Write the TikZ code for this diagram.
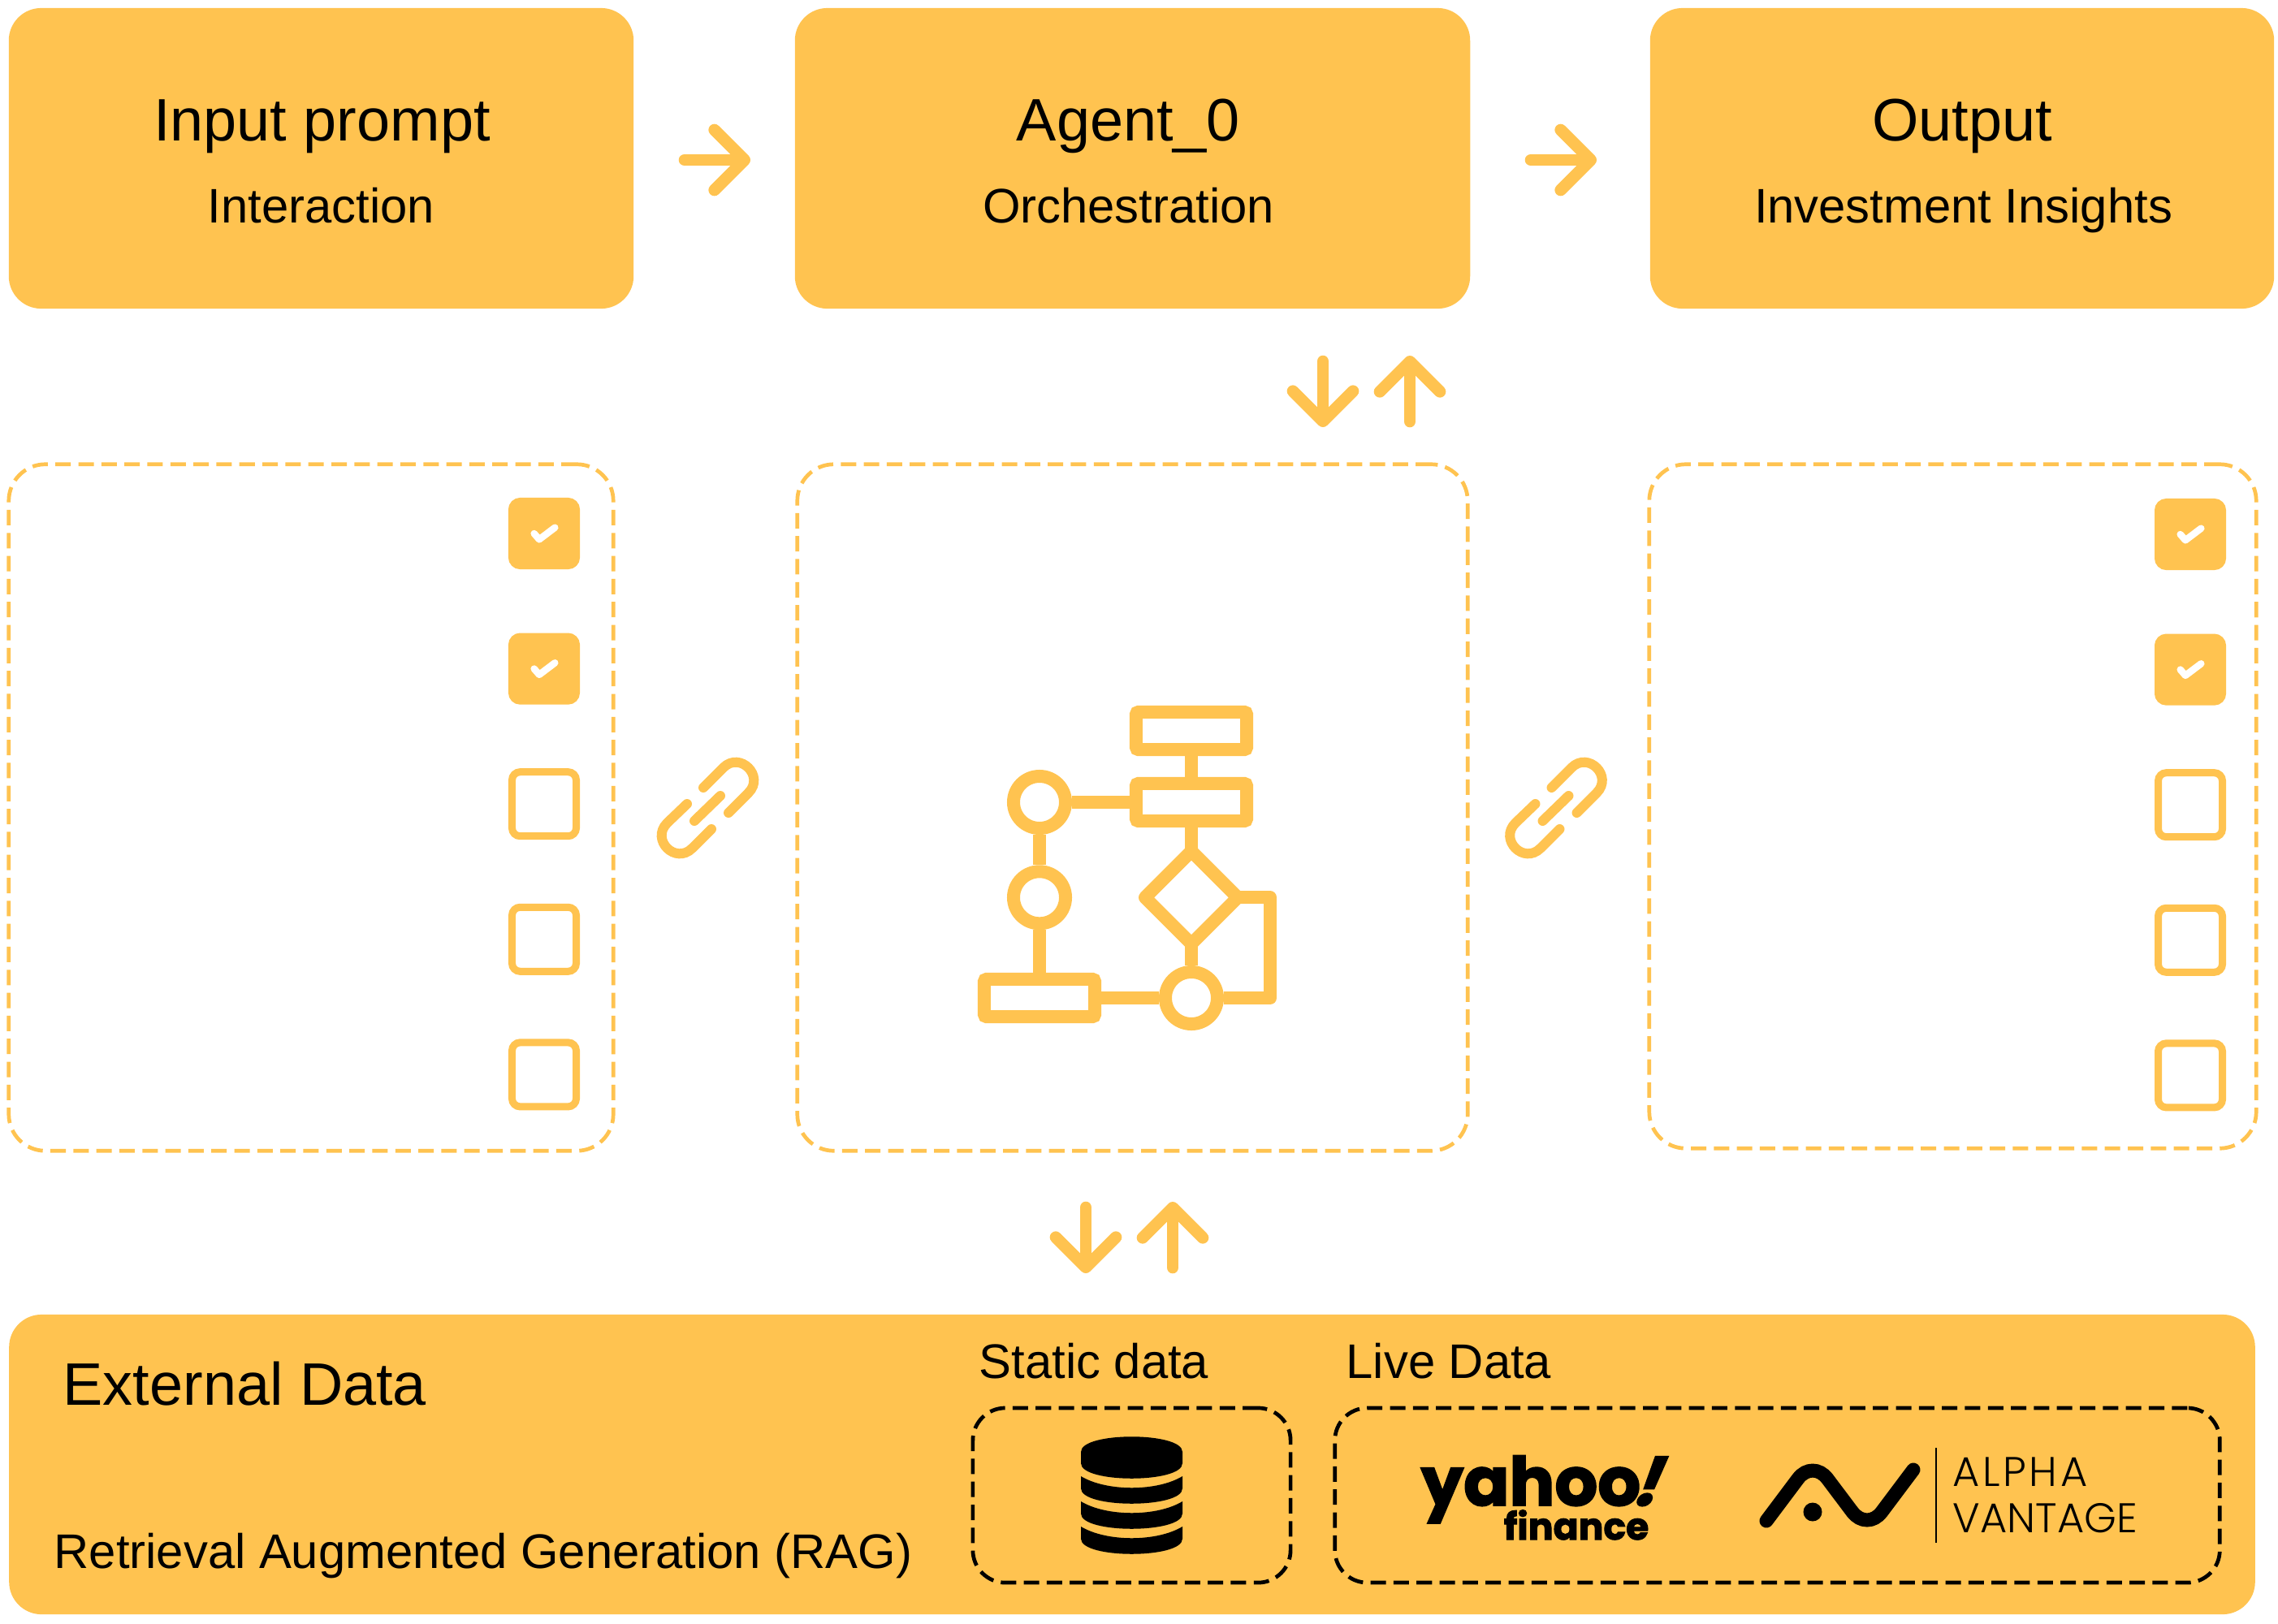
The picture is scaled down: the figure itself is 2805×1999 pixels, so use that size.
\documentclass[tikz,border=0pt]{standalone}
\usepackage{fontspec}
\setmainfont{Liberation Sans}
\newfontfamily\yahoofont[FakeBold=2.2]{Poppins Bold}
\newfontfamily\yahooslant[FakeBold=2.2, FakeSlant=0.4]{Poppins Bold}
\newfontfamily\alphafont{Poppins Light}
\usepackage{xcolor}
\usetikzlibrary{positioning, arrows.meta, shapes.geometric}
\definecolor{amber}{HTML}{FFC350}

\tikzset{
    panel/.style={rectangle, fill=amber, rounded corners=0.4cm, inner sep=0pt, outer sep=0pt},
    titletext/.style={anchor=base, inner sep=0pt, font=\fontsize{21}{24}\selectfont},
    subtext/.style={anchor=base, inner sep=0pt, font=\fontsize{17}{20}\selectfont},
    dashbox/.style={rectangle, draw=amber, line width=0.047cm, dash pattern=on 0.19cm off 0.093cm, rounded corners=0.45cm, inner sep=0pt},
    darkbox/.style={rectangle, draw=black, line width=0.047cm, dash pattern=on 0.19cm off 0.093cm, rounded corners=0.4cm, inner sep=0pt},
    checkoff/.style={rectangle, draw=amber, line width=0.09cm, minimum size=0.79cm, rounded corners=0.1cm, inner sep=0pt},
    checkon/.style={checkoff, fill=amber},
    flowbox/.style={rectangle, draw=amber, line width=0.16cm, minimum width=1.36cm, minimum height=0.463cm, rounded corners=0.03cm, inner sep=0pt},
    flowdot/.style={circle, draw=amber, line width=0.16cm, minimum size=0.64cm, inner sep=0pt},
    flowdiamond/.style={diamond, draw=amber, line width=0.16cm, minimum width=1.14cm, minimum height=1.14cm, line join=round, inner sep=0pt, outer sep=0pt},
    flowline/.style={draw=amber, line width=0.16cm},
    iconarrow/.style={draw=amber, line width=0.146cm, line cap=round, -{Straight Barb[round, length=0.37cm, width=0.74cm]}},
    tick/.pic={
        \draw[white, line width=0.085cm, line cap=round, line join=round] (-12.3,0) -- (-6,7.3) -- (13.3,-7.3);
    },
    chainicon/.pic={
        \draw[amber, line width=0.12cm, line cap=round] (-5.5,-25) -- (19,-49.5) .. controls (39.7,-70.2) and (70.7,-39.2) .. (50,-18.5) -- (25.5,6);
        \draw[amber, line width=0.12cm, line cap=round] (15.5,-15) -- (-16.5,16);
        \draw[amber, line width=0.12cm, line cap=round] (-25.5,-5) -- (-50,18.5) .. controls (-70.7,39.2) and (-39.7,70.2) .. (-19,49.5) -- (4.5,26);
    },
    dbband/.pic={
        \fill[black] (-62.5,0) .. controls (-31,19) and (31,19) .. (62.5,0) -- (62.5,15) .. controls (62.5,40) and (-62.5,40) .. (-62.5,15) -- cycle;
    }
}

\begin{document}
\begin{tikzpicture}[x=0.01cm, y=-0.01cm]
\useasboundingbox (0,0) rectangle (2805,1999);

% Top row
\node[panel, minimum width=7.69cm, minimum height=3.7cm] (input) at (395.5,195) {};
\node[titletext, xshift=0.01cm, yshift=-1.64cm] (inputT) at (input.north) {Input prompt};
\node[subtext, yshift=-2.64cm] (inputS) at (input.north) {Interaction};

\node[panel, minimum width=8.31cm, minimum height=3.7cm] (agent) at (1394.5,195) {};
\node[titletext, xshift=-0.05cm, yshift=-1.64cm] (agentT) at (agent.north) {Agent\_0};
\node[subtext, xshift=-0.05cm, yshift=-2.64cm] (agentS) at (agent.north) {Orchestration};

\node[panel, minimum width=7.68cm, minimum height=3.7cm] (output) at (2416,195) {};
\node[titletext, yshift=-1.64cm] (outputT) at (output.north) {Output};
\node[subtext, xshift=0.015cm, yshift=-2.64cm] (outputS) at (output.north) {Investment Insights};

% Arrows of the top row
\coordinate (inA) at (843,197);
\coordinate (inB) at (924,197);
\coordinate (outA) at (1885,197);
\coordinate (outB) at (1966,197);
\draw[iconarrow] (inA) -- (inB);
\draw[iconarrow] (outA) -- (outB);

% Dashed panels
\node[dashbox, minimum width=7.44cm, minimum height=8.45cm] (left) at (383,994.5) {};
\node[dashbox, minimum width=8.25cm, minimum height=8.45cm] (mid) at (1394.5,994.5) {};
\node[dashbox, minimum width=7.47cm, minimum height=8.42cm] (right) at (2404.5,993) {};

% Arrows between agent and flow panel
\coordinate (agDownA) at (1629,445);
\coordinate (agDownB) at (1629,526);
\coordinate (agUpA) at (1736,519);
\coordinate (agUpB) at (1736,438);
\draw[iconarrow] (agDownA) -- (agDownB);
\draw[iconarrow] (agUpA) -- (agUpB);

% Arrows between flow panel and data
\coordinate (dataDownA) at (1337,1487);
\coordinate (dataDownB) at (1337,1568);
\coordinate (dataUpA) at (1444,1561);
\coordinate (dataUpB) at (1444,1480);
\draw[iconarrow] (dataDownA) -- (dataDownB);
\draw[iconarrow] (dataUpA) -- (dataUpB);

% Left checklist
\node[checkon] (la) at (670,657) {};
\node[checkon, below=0.785cm of la] (lb) {};
\node[checkoff, below=0.785cm of lb] (lc) {};
\node[checkoff, below=0.785cm of lc] (ld) {};
\node[checkoff, below=0.785cm of ld] (le) {};
\pic at (la) {tick};
\pic at (lb) {tick};

% Right checklist
\node[checkon] (ra) at (2697,658) {};
\node[checkon, below=0.785cm of ra] (rb) {};
\node[checkoff, below=0.785cm of rb] (rc) {};
\node[checkoff, below=0.785cm of rc] (rd) {};
\node[checkoff, below=0.785cm of rd] (re) {};
\pic at (ra) {tick};
\pic at (rb) {tick};

% Links
\pic at (871.5,995) {chainicon};
\pic at (1916,995) {chainicon};

% Flow chart icon
\node[flowbox] (fa) at (1467,900) {};
\node[flowbox] (fb) at (1467,988) {};
\node[flowdot] (fc) at (1280,988) {};
\node[flowdot] (fd) at (1280,1105.3) {};
\node[flowbox] (fe) at (1280,1229) {};
\node[flowdot] (ff) at (1467,1229) {};
\node[flowdiamond] (fg) at (1467,1105.3) {};
\coordinate (fturn) at (1564,1105.3);
\draw[flowline] (fa.south) -- (fb.north);
\draw[flowline] (fb.south) -- (fg.north);
\draw[flowline] (fb.west) -- (fc.east);
\draw[flowline] (fc.south) -- (fd.north);
\draw[flowline] (fd.south) -- (fe.north);
\draw[flowline] (fe.east) -- (ff.west);
\draw[flowline] (fg.south) -- (ff.north);
\draw[flowline, line join=round] (fg.east) -- (fturn) |- (ff.east);

% External data
\node[panel, minimum width=27.64cm, minimum height=3.69cm] (data) at (1394,1803.5) {};
\node[titletext, anchor=base west] (dataT) at (77,1730) {External Data};
\node[subtext, anchor=base west] (dataS) at (66,1931) {Retrieval Augmented Generation (RAG)};
\node[subtext, anchor=base west] (staticT) at (1205,1697) {Static data};
\node[subtext, anchor=base west] (liveT) at (1657,1697) {Live Data};
\node[darkbox, minimum width=3.91cm, minimum height=2.15cm] (static) at (1393.5,1841.5) {};
\node[darkbox, minimum width=10.89cm, minimum height=2.15cm] (live) at (2188.5,1841.5) {};

% Database
\fill[black] (1331,1788) .. controls (1331,1763) and (1456,1763) .. (1456,1788) -- (1456,1802) .. controls (1456,1827) and (1331,1827) .. (1331,1802) -- cycle;
\pic at (1393.5,1818) {dbband};
\pic at (1393.5,1849) {dbband};
\pic at (1393.5,1880) {dbband};

% Yahoo
\node[anchor=base west, inner sep=0pt, font=\yahoofont\fontsize{23.6}{28}\selectfont] (yahoo) at (1749,1854) {yahoo\kern-0.17em{\yahooslant!}};
\node[anchor=base east, inner sep=0pt, font=\yahoofont\fontsize{13}{16}\selectfont] (finance) at (2031,1896) {finance};

% Alpha Vantage
\draw[black, line width=0.17cm, line cap=round, rounded corners=0.3cm] (2175,1873) -- (2232,1797) -- (2299,1886) -- (2356,1810);
\fill[black] (2232,1862) circle[radius=0.115cm];
\draw[black, line width=0.018cm] (2384,1783) -- (2384,1900);
\node[anchor=base west, inner sep=0pt, font=\alphafont\fontsize{14.5}{16}\selectfont] (alpha) at (2404,1830) {\addfontfeature{LetterSpace=7}ALPHA};
\node[anchor=base west, inner sep=0pt, font=\alphafont\fontsize{14.5}{16}\selectfont] (vantage) at (2404,1887) {VANTAGE};

\end{tikzpicture}
\end{document}
